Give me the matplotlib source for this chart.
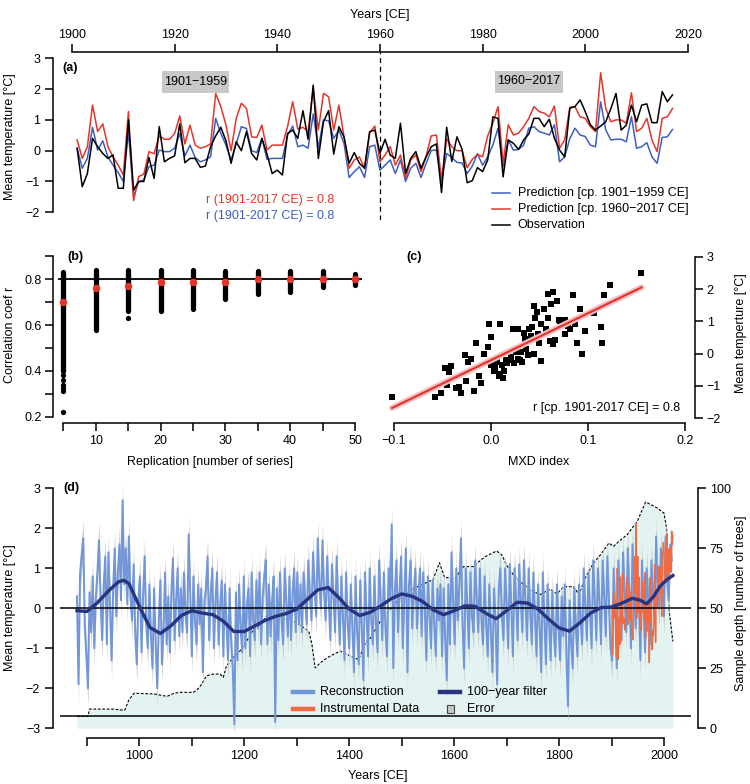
import numpy as np
import matplotlib
matplotlib.use("Agg")
import matplotlib.pyplot as plt
from matplotlib.lines import Line2D
from matplotlib.patches import Rectangle

# ---------------- data ----------------
years_a = list(range(1901, 2018))
obs = [0.08, -1.17, -0.74, 0.40, 0.13, -0.09, -0.25, -0.14, -1.22, -1.22,
       1.00, -1.28, -1.00, -1.00, -0.22, -0.90, 0.78, -0.36, -0.25, -0.17,
       0.87, -0.39, -0.25, -0.25, -0.54, -0.50, 0.13, 0.48, 0.76, 0.32,
       -0.41, 0.29, 0.00, 0.62, -0.09, -0.30, 0.40, -0.11, -0.74, -0.63,
       -0.79, 0.56, 0.67, 0.40, 1.30, 0.37, 2.13, -0.25, 0.94, 1.30,
       -0.11, 0.78, 0.45, -0.41, -0.06, -0.41, -0.57, 0.62, 0.67, -0.09,
       0.37, -0.14, -0.25, 0.89, -0.74, -0.25, -0.03, -0.57, -0.20, 0.13,
       0.22, -1.36, 0.76, -0.35, 0.45, 0.05, -1.04, -0.97, -0.55, -0.68,
       -0.30, 1.10, 1.05, -0.85, 0.35, 0.24, 0.04, 0.35, 0.54, 1.05,
       1.05, 0.78, 1.02, 0.40, 0.02, -0.20, 1.38, 1.43, 1.65, 1.27,
       0.84, 0.67, 0.80, 0.94, 1.37, 1.86, 0.67, 0.83, 1.48, 0.94,
       1.48, 1.52, 0.91, 0.91, 1.92, 1.59, 1.81]
pred_late = [0.35, -0.25, 0.13, 1.48, 0.62, 0.87, 0.13, -0.20, -0.47, -0.79,
             1.27, -1.62, -0.84, -0.76, -0.03, -0.10, 0.48, 0.37, 0.37, 0.56,
             1.13, 0.22, 0.83, 0.18, 0.08, 0.13, 0.22, 1.86, 1.43, 0.83,
             0.00, 1.05, 1.54, 1.37, 0.45, 0.43, 0.83, 0.02, 0.18, 0.18,
             0.18, 0.78, 1.59, 0.70, 0.76, 0.62, 2.02, 0.67, 1.86, 1.75,
             0.67, 1.48, 0.45, -0.57, -0.30, -0.20, -0.57, 0.58, 0.80, -0.36,
             -0.14, 0.13, -0.47, -0.14, -0.90, -0.30, -0.14, -0.68, -0.17, 0.48,
             0.51, -0.95, 0.38, 0.13, 0.00, 0.00, -0.55, -0.28, -0.12, -0.20,
             0.48, 0.89, 1.43, -0.41, 0.84, 0.51, 0.57, 0.78, 1.05, 1.43,
             1.27, 1.22, 1.10, 1.45, 0.08, 0.35, 1.41, 1.43, 1.10, 1.05,
             0.78, 0.62, 2.53, 1.37, 0.94, 1.00, 1.00, 0.89, 1.88, 0.62,
             0.73, 1.05, 0.35, -0.03, 1.05, 1.10, 1.37]
pred_early = [0.08, -0.57, -0.25, 0.76, 0.02, 0.32, -0.20, -0.47, -0.71, -1.00,
              0.62, -1.49, -1.00, -0.95, -0.52, -0.47, 0.02, -0.03, -0.03, 0.08,
              0.56, -0.17, 0.18, -0.22, -0.36, -0.30, -0.20, 1.05, 0.56, 0.18,
              -0.30, 0.22, 0.78, 0.72, 0.00, -0.06, 0.40, -0.28, -0.25, -0.25,
              -0.25, 0.50, 0.80, 0.13, 0.18, 0.08, 1.19, 0.10, 1.00, 0.97,
              0.40, 0.67, 0.24, -0.87, -0.68, -0.52, -0.87, 0.13, 0.18, -0.63,
              -0.47, -0.30, -0.74, -0.30, -1.00, -0.57, -0.41, -0.87, -0.41, 0.01,
              0.02, -1.00, -0.09, -0.22, -0.38, -0.40, -0.74, -0.50, -0.10, -0.47,
              -0.20, 0.18, 0.73, -0.52, 0.35, 0.02, 0.04, 0.18, 0.73, 0.78,
              0.62, 0.57, 0.51, 0.84, -0.36, -0.20, 0.40, 0.73, 0.51, 0.46,
              0.18, 0.13, 1.59, 0.67, 0.35, 0.37, 0.37, 0.29, 1.10, 0.08,
              0.13, 0.26, -0.20, -0.41, 0.43, 0.45, 0.69]

reps = [5, 10, 15, 20, 25, 30, 35, 40, 45, 50]
r_min = [0.40, 0.58, 0.66, 0.66, 0.67, 0.715, 0.735, 0.745, 0.765, 0.775]
r_max = [0.83, 0.84, 0.84, 0.84, 0.84, 0.835, 0.835, 0.835, 0.835, 0.825]
r_mean = [0.70, 0.76, 0.77, 0.79, 0.79, 0.79, 0.80, 0.80, 0.80, 0.80]
r_single_x = [5, 5, 5, 5, 5, 5, 15]
r_single_y = [0.38, 0.36, 0.34, 0.325, 0.31, 0.22, 0.63]

mxd = [-0.102, -0.058, -0.052, -0.045, -0.036, -0.031, -0.026, -0.018, -0.010, -0.012,
       -0.041, -0.043, -0.027, -0.021, -0.015, -0.007, -0.003, -0.002, 0.000, 0.009,
       0.000, 0.003, 0.006, 0.009, 0.012, 0.011, 0.015, 0.019, 0.023, 0.028,
       0.024, 0.028, 0.031, 0.032, 0.034, 0.035, 0.038, 0.039, 0.044, 0.044,
       0.045, 0.047, 0.042, 0.049, 0.052, 0.052, 0.055, 0.059, 0.059, 0.064,
       0.062, 0.068, 0.066, 0.064, 0.071, 0.076, 0.076, 0.081, 0.085, 0.087,
       0.089, 0.092, 0.094, 0.097, 0.106, 0.113, 0.114, 0.116, 0.123, 0.155,
       -0.047, -0.033, -0.024, 0.004, 0.008, 0.013, 0.017, 0.021, 0.026, 0.030,
       0.036, 0.041, 0.048, 0.057, 0.061, 0.070, 0.079]
temp_c = [-1.34, -1.34, -1.21, -0.98, -1.05, -1.21, -0.85, -1.17, -0.92, -0.69,
          -0.38, -0.56, -0.05, -0.17, 0.32, 0.00, 0.22, 0.91, 0.50, 0.91,
          -0.36, -0.54, -0.27, -0.62, -0.75, -0.35, -0.20, -0.20, 0.77, 0.77,
          -0.30, -0.15, 0.06, -0.25, 0.63, 0.45, -0.05, 0.77, 1.48, -0.02,
          1.11, 1.29, 0.84, 0.34, -0.23, 0.91, 1.37, 1.11, 1.84, 1.91,
          1.53, 1.63, 0.43, 0.30, 1.00, 1.03, 0.62, 0.75, 1.80, 0.93,
          0.32, 1.37, -0.02, 0.71, 1.27, 0.83, 0.34, 1.80, 2.11, 2.48,
          -0.45, -1.02, -0.25, -0.45, -0.70, -0.55, -0.30, -0.10, 0.05, -0.20,
          0.15, 0.55, 0.60, 0.75, 0.40, 1.05, 0.85]
fit_slope, fit_intercept = 14.5, -0.2

recon_years = list(range(881, 2016, 3))
recon = [
    0.3, -1.9, 0.9, 1.3, 1.75, -0.5, -1.2, -2.0, 0.4, -0.6, 0.8, -1.0, 0.3, 0.9, 1.7, 0.2, -0.8, 0.6, 1.3, -0.9,
    1.4, 0.1, -1.3, 0.5, 1.5, -0.2, 0.9, 1.6, 0.2, 2.7, 0.6, 1.5, 0.1, 1.8, 0.3, -0.3, 1.1, -0.6, -1.4, 0.2,
    0.8, -1.1, 0.3, 1.3, -0.4, -1.0, 0.6, -0.7, -1.5, 0.5, -0.9, -2.0, -0.3, 0.7, -1.4, -0.5, 0.9, -0.9, 0.3, -1.1,
    0.4, 1.25, -0.8, 0.2, 1.0, -0.7, 0.5, -0.6, 0.9, -0.2, -0.6, 1.85, 0.3, -1.2, 0.8, -0.3, -0.9, 0.6, -0.4, 0.5,
    -1.6, 0.2, 0.5, 1.3, -0.8, 0.4, 1.0, -1.0, 0.2, 0.9, -0.9, 0.1, 0.7, -1.2, 0.6, -0.4, -1.3, 0.5, -0.9, -1.5,
    -2.9, 0.4, -1.3, 0.6, -0.5, -1.1, 0.8, -1.0, 0.1, 0.5, -1.2, 0.9, -0.3, -0.8, 0.7, -0.5, 0.9, -0.9, 0.3, 0.8,
    1.2, -0.9, 0.6, -0.7, 0.2, 0.8, -2.85, 0.5, -0.8, 0.9, -0.3, -0.9, 1.0, 0.1, -0.7, 0.8, -0.8, 0.4, 1.0, -0.6,
    0.9, -0.4, 0.6, -0.6, 0.9, 0.2, -0.4, 1.2, 0.3, -0.3, 1.4, 0.5, -0.2, 1.75, 0.6, 0.0, 1.7, 0.4, -0.3, 1.3,
    0.2, -0.8, 1.1, 0.3, -0.6, 1.3, 0.1, -0.9, 0.8, -0.2, -1.3, 0.9, -0.4, -1.0, 0.6, -0.5, -1.6, 0.8, -0.6, -1.4,
    0.7, -0.5, -1.8, 0.9, -0.2, -1.2, 1.0, -0.3, -0.9, 0.8, -0.4, -1.1, 1.2, 0.2, -0.8, 0.9, -0.5, -1.2, 1.0, 0.3,
    2.1, -1.5, 0.4, 1.2, -0.6, 0.5, 1.3, -1.0, 0.3, 1.5, -1.6, 0.6, 1.2, -0.5, 0.4, 1.0, -0.5, 0.3, 1.0, -0.7,
    0.9, 0.0, -1.3, 0.8, -0.2, -1.0, 0.7, -0.4, -1.2, 0.5, -0.3, 0.6, -1.2, 0.5, -0.8, -1.8, 0.6, -0.9, 1.4, 0.2,
    -0.9, 1.0, -0.3, 0.6, 1.75, -0.4, -1.5, 1.0, 0.1, -1.0, 0.9, -0.2, -0.6, 1.2, 0.2, -0.6, 1.0, -0.3, -0.9, 0.8,
    -0.4, -1.2, 0.6, -0.6, -1.6, 0.5, -0.4, -1.9, 0.5, 1.0, -0.2, -0.8, 1.0, 0.1, -1.0, 1.1, 0.0, -1.2, 1.0, 0.2,
    -0.8, 1.1, 0.2, -0.6, 1.2, 0.1, -0.8, 1.0, -0.1, -0.9, 0.9, -0.2, -1.2, 0.6, -0.5, -1.6, 0.9, -0.3, -1.4, 0.6,
    -0.4, -1.3, 0.4, -0.6, -1.2, 0.6, -0.5, -1.3, 0.3, -0.7, 0.6, -1.2, -2.45, 0.2, -0.9, -1.5, 0.5, -0.5, -1.2, 0.6,
    -0.3, -0.9, 1.0, 0.0, -0.8, 0.9, -0.1, -1.0, 1.2, 0.2, -0.8, 1.0, 0.1, -0.9, 1.2, 0.3, -0.7, 1.3, 0.2, -1.0,
    -1.3, 1.0, 0.0, -1.5, 1.2, 0.2, -0.8, 1.4, 0.3, -0.6, 1.5, 0.4, -1.0, 1.6, 0.5, -0.5, 1.1, 0.2, -1.3, 1.2,
    0.0, -1.1, 1.0, 0.2, -0.9, 1.2, 0.3, -0.3, 1.8, 0.4, 0.0, 1.5, 0.5, -0.2, 1.8, 0.7, 0.2, 1.6, 1.2]
recon_error = 0.45

filt_years = [881, 900, 920, 940, 960, 970, 980, 1000, 1020, 1040, 1060, 1080, 1100, 1120, 1140, 1160,
              1180, 1200, 1220, 1240, 1260, 1280, 1300, 1320, 1340, 1360, 1380, 1400, 1420, 1440, 1460,
              1480, 1500, 1520, 1540, 1560, 1580, 1600, 1620, 1640, 1660, 1680, 1700, 1720, 1740, 1760,
              1780, 1800, 1820, 1840, 1860, 1880, 1900, 1920, 1940, 1955, 1967, 1980, 1992, 2005, 2017]
filt = [-0.06, -0.08, 0.14, 0.42, 0.66, 0.70, 0.62, 0.05, -0.48, -0.63, -0.44, -0.18, -0.06, -0.12, -0.16, -0.32,
        -0.58, -0.58, -0.44, -0.30, -0.20, -0.13, -0.02, 0.22, 0.46, 0.52, 0.27, -0.02, -0.18, -0.10, 0.06,
        0.24, 0.36, 0.30, 0.17, -0.04, -0.16, -0.06, 0.06, 0.05, -0.12, -0.26, -0.06, 0.15, 0.13, -0.02,
        -0.27, -0.49, -0.57, -0.36, -0.12, 0.02, 0.03, 0.13, 0.25, 0.20, 0.11, 0.29, 0.54, 0.71, 0.82]

depth_years = [881, 902, 905, 950, 972, 980, 990, 1028, 1053, 1066, 1078, 1103, 1110, 1119, 1128, 1141,
               1154, 1160, 1166, 1179, 1192, 1205, 1217, 1230, 1243, 1252, 1259, 1275, 1294, 1310, 1323,
               1329, 1335, 1345, 1358, 1370, 1383, 1396, 1409, 1418, 1431, 1441, 1460, 1480, 1500, 1520,
               1540, 1560, 1572, 1582, 1605, 1608, 1618, 1637, 1643, 1659, 1681, 1691, 1700, 1713, 1726,
               1751, 1764, 1783, 1796, 1809, 1828, 1838, 1850, 1866, 1879, 1895, 1904, 1914, 1930, 1949,
               1965, 1975, 1987, 2000, 2005, 2010, 2017]
depth = [5, 5, 8, 8, 7.5, 11.8, 14.6, 14.3, 13.3, 14.6, 15, 15, 16, 18.4, 21.9, 22.6,
         22.6, 21.2, 26, 29.5, 32.3, 36.5, 41, 43, 47, 53, 50, 46, 44.5, 42.5, 40.4,
         34.9, 25.2, 27.3, 29.4, 30.8, 32.2, 30.8, 29.4, 28.7, 35.6, 37.7, 45, 50, 55, 58,
         60, 62, 69, 62.8, 62.8, 64.6, 67.4, 67.4, 68.7, 71.5, 73.9, 72.2, 68, 63.9, 61,
         57, 55.7, 58, 56, 59, 59, 55.7, 62.7, 69, 72.3, 77.2, 75.8, 77.9, 80.7, 86.2,
         94.3, 93.2, 91.8, 89.7, 83.4, 48.7, 36.2]
depth_threshold = 5

# ---------------- style ----------------
RED = '#e5352b'
BLUE = '#3d5fbf'
RECON = '#7196d9'
GRAY = '#c8c8c8'
TEAL = '#e3f3f1'
NAVY = '#283480'
INSTR = '#f36a40'
FS = 9

plt.rcParams['font.family'] = ['Liberation Sans', 'DejaVu Sans']
plt.rcParams['font.size'] = FS
plt.rcParams['axes.linewidth'] = 1.1
plt.rcParams['xtick.major.width'] = 1.1
plt.rcParams['ytick.major.width'] = 1.1
plt.rcParams['xtick.major.size'] = 5.5
plt.rcParams['ytick.major.size'] = 5.5
plt.rcParams['xtick.labelsize'] = FS
plt.rcParams['ytick.labelsize'] = FS

W, H = 750, 784
PT = 0.72  # points per pixel
fig = plt.figure(figsize=(W / 100, H / 100), dpi=100)


def add_ax(l, t, r, b):
    return fig.add_axes([l / W, 1 - b / H, (r - l) / W, (b - t) / H])


def ftxt(x, y, s, **kw):
    kw.setdefault('fontsize', FS)
    fig.text(x / W, 1 - y / H, s, **kw)


def fline(x0, x1, y, **kw):
    fig.add_artist(Line2D([x0 / W, x1 / W], [1 - y / H, 1 - y / H], transform=fig.transFigure, **kw))


def frect(x0, y0, w, h, **kw):
    fig.add_artist(Rectangle((x0 / W, 1 - (y0 + h) / H), w / W, h / H, transform=fig.transFigure, **kw))


# ---------------- panel (a) ----------------
axA = add_ax(53.3, 51.7, 696.3, 220)
axA.plot(years_a, pred_early, color=BLUE, lw=1.1)
axA.plot(years_a, pred_late, color=RED, lw=1.1)
axA.plot(years_a, obs, color='black', lw=1.1)
axA.axvline(1960, color='black', lw=0.9, ls=(0, (4, 3)))
axA.set_xlim(1896.36, 2021.64)
axA.set_ylim(-2.25, 3.214)
axA.patch.set_visible(False)
for s in ['right', 'bottom']:
    axA.spines[s].set_visible(False)
axA.spines['top'].set_bounds(1900, 2020)
axA.spines['left'].set_bounds(-2, 3)
axA.xaxis.set_ticks_position('top')
axA.set_xticks(range(1900, 2021, 20))
axA.set_yticks(range(-2, 4))
axA.set_yticklabels(['\u22122', '\u22121', '0', '1', '2', '3'])
axA.tick_params(axis='x', pad=2)
axA.tick_params(axis='y', pad=4)

ftxt(380, 15, 'Years [CE]', ha='center', va='center')
ftxt(10, 137, 'Mean temperature [°C]', rotation=90, ha='center', va='center')
ftxt(62, 68, '(a)', fontweight='bold', ha='left', va='center')
frect(161.7, 70.7, 67.6, 22, facecolor=GRAY, edgecolor='none')
ftxt(195.5, 81.7, '1901\u22121959', ha='center', va='center')
frect(495, 70.5, 68.3, 22, facecolor=GRAY, edgecolor='none')
ftxt(529, 81.5, '1960\u22122017', ha='center', va='center')
ftxt(270, 200, 'r (1901-2017 CE) = 0.8', color=RED, ha='center', va='center')
ftxt(270, 216, 'r (1901-2017 CE) = 0.8', color=BLUE, ha='center', va='center')
for yy, col, lab in [(192.7, BLUE, 'Prediction [cp. 1901\u22121959 CE]'),
                     (209, RED, 'Prediction [cp. 1960\u22122017 CE]'),
                     (225, 'black', 'Observation')]:
    fline(491.7, 510, yy, color=col, lw=1.1)
    ftxt(517.7, yy, lab, ha='left', va='center')

# ---------------- panel (b) ----------------
axB = add_ax(58.3, 250, 362, 418)
for x, lo, hi in zip(reps, r_min, r_max):
    axB.plot([x, x], [lo, hi], color='black', lw=3.8, solid_capstyle='round')
axB.plot(r_single_x, r_single_y, 'o', color='black', ms=3.8, mew=0)
axB.axhline(0.8, color='black', lw=1.3)
axB.plot(reps, r_mean, 'o', color=RED, ms=5.4, mew=0, zorder=5)
axB.set_xlim(4.228, 51.08)
axB.set_ylim(0.194, 0.928)
axB.patch.set_visible(False)
for s in ['right', 'top']:
    axB.spines[s].set_visible(False)
axB.spines['left'].set_position(('outward', 5 * PT))
axB.spines['bottom'].set_position(('outward', 5.3 * PT))
axB.spines['left'].set_bounds(0.2, 0.9)
axB.spines['bottom'].set_bounds(5, 50)
axB.set_xticks(reps)
axB.set_xticklabels(['' if r % 10 else str(r) for r in reps])
axB.set_yticks([0.2, 0.3, 0.4, 0.5, 0.6, 0.7, 0.8, 0.9])
axB.set_yticklabels(['0.2', '', '0.4', '', '0.6', '', '0.8', ''])
axB.tick_params(axis='x', pad=3)
axB.tick_params(axis='y', pad=3)
ftxt(67, 257, '(b)', fontweight='bold', ha='left', va='center')
ftxt(10, 335, 'Correlation coef r', rotation=90, ha='center', va='center')
ftxt(210, 462, 'Replication [number of series]', ha='center', va='center')

# ---------------- panel (c) ----------------
axC = add_ax(388, 250, 690, 418.3)
axC.scatter(mxd, temp_c, marker='s', s=14, color='black', linewidths=0, zorder=2)
xfit = np.array([min(mxd), max(mxd)])
yfit = fit_slope * xfit + fit_intercept
axC.plot(xfit, yfit, color='#f7c3c6', lw=4.5, solid_capstyle='round', zorder=3)
axC.plot(xfit, yfit, color=RED, lw=1.6, zorder=4)
axC.set_xlim(-0.10619, 0.20515)
axC.set_ylim(-2.0, 3.207)
axC.patch.set_visible(False)
for s in ['left', 'top']:
    axC.spines[s].set_visible(False)
axC.spines['right'].set_position(('outward', 5 * PT))
axC.spines['bottom'].set_position(('outward', 5 * PT))
axC.spines['right'].set_bounds(-2, 3)
axC.spines['bottom'].set_bounds(-0.1, 0.2)
axC.yaxis.set_ticks_position('right')
axC.set_xticks([-0.1, 0.0, 0.1, 0.2])
axC.set_xticklabels(['\u22120.1', '0.0', '0.1', '0.2'])
axC.set_yticks(range(-2, 4))
axC.set_yticklabels(['\u22122', '\u22121', '0', '1', '2', '3'])
axC.tick_params(axis='x', pad=3)
axC.tick_params(axis='y', pad=3)
ftxt(406, 257, '(c)', fontweight='bold', ha='left', va='center')
ftxt(680, 407.7, 'r [cp. 1901-2017 CE] = 0.8', ha='right', va='center')
ftxt(539, 462, 'MXD index', ha='center', va='center')
ftxt(741, 333, 'Mean temperture [°C]', rotation=90, ha='center', va='center')

# ---------------- panel (d) ----------------
axD = add_ax(60, 482, 690.7, 730.3)
axD2 = axD.twinx()
axD.set_zorder(axD2.get_zorder() + 1)
axD.patch.set_visible(False)

ylo, yhi = -3.05, 3.1575
axD.set_ylim(ylo, yhi)
axD2.set_ylim((ylo + 3) * 100 / 6, (yhi + 3) * 100 / 6)
axD.set_xlim(848.7, 2050.95)

axD2.fill_between(depth_years, 0, depth, color=TEAL, lw=0)
axD2.plot(depth_years, depth, color='black', lw=0.8, ls=(0, (2.5, 1.5)))
axD2.axhline(depth_threshold, color='black', lw=1.1)

r_arr = np.array(recon)
axD.fill_between(recon_years, r_arr - recon_error, r_arr + recon_error, color=GRAY, lw=0, zorder=1)
axD.plot(recon_years, recon, color=RECON, lw=1.4, zorder=2)
axD.plot(years_a, obs, color=INSTR, lw=1.0, zorder=3)
axD.axhline(0, color='black', lw=1.1, zorder=4)
axD.plot(filt_years, filt, color=NAVY, lw=2.4, zorder=5, solid_joinstyle='round')

for s in ['right', 'top']:
    axD.spines[s].set_visible(False)
for s in ['left', 'top', 'bottom']:
    axD2.spines[s].set_visible(False)
axD.spines['left'].set_position(('outward', 6.7 * PT))
axD.spines['bottom'].set_position(('outward', 8 * PT))
axD2.spines['right'].set_position(('outward', 7.3 * PT))
axD.spines['left'].set_bounds(-3, 3)
axD.spines['bottom'].set_bounds(900, 2000)
axD2.spines['right'].set_bounds(0, 100)
axD.set_yticks(range(-3, 4))
axD.set_yticklabels(['\u22123', '\u22122', '\u22121', '0', '1', '2', '3'])
xt = list(range(900, 2001, 100))
axD.set_xticks(xt)
axD.set_xticklabels([str(v) if v % 200 == 0 else '' for v in xt])
axD2.set_yticks([0, 25, 50, 75, 100])
axD.tick_params(axis='x', pad=3)
axD.tick_params(axis='y', pad=4)
axD2.tick_params(axis='y', pad=3)

ftxt(63, 488, '(d)', fontweight='bold', ha='left', va='center')
ftxt(10, 608, 'Mean temperature [°C]', rotation=90, ha='center', va='center')
ftxt(741, 603, 'Sample depth [number of trees]', rotation=90, ha='center', va='center')
ftxt(378, 776, 'Years [CE]', ha='center', va='center')

fline(293, 313, 691.7, color=RECON, lw=3.2)
ftxt(320, 691.7, 'Reconstruction', ha='left', va='center')
fline(293, 313, 709, color=INSTR, lw=3.2)
ftxt(320, 709, 'Instrumental Data', ha='left', va='center')
fline(440, 460, 692.3, color=NAVY, lw=3.2)
ftxt(466.7, 692.3, '100\u2212year filter', ha='left', va='center')
frect(446.5, 705, 7.5, 7.5, facecolor=GRAY, edgecolor='#444444', lw=0.8)
ftxt(466.7, 709, 'Error', ha='left', va='center')

fig.savefig('out.png', dpi=100)
